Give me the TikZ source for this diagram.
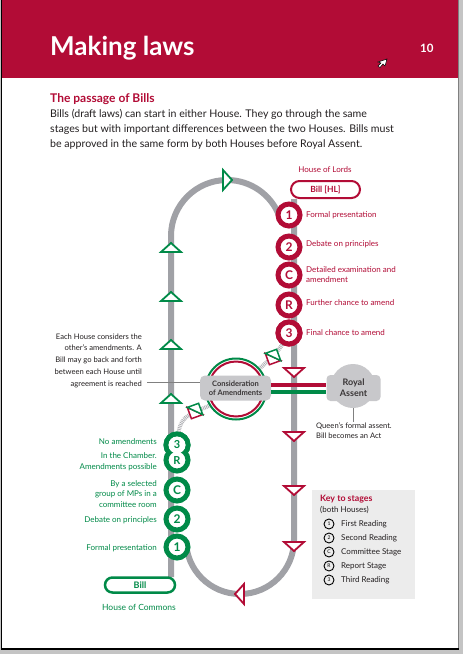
\documentclass[tikz,border=0pt]{standalone}
\usepackage{fontspec}
\setmainfont{Lato}
\definecolor{hred}{RGB}{178,12,54}
\definecolor{hgreen}{RGB}{0,138,72}
\definecolor{trk}{RGB}{160,161,166}
\definecolor{boxg}{RGB}{200,200,203}
\definecolor{keyg}{RGB}{236,236,236}
\definecolor{txt}{RGB}{35,31,32}
\definecolor{pageg}{RGB}{196,196,196}
\newcommand\fs[2]{\fontsize{#1}{#2}\selectfont}
\newcommand\mytri[4]{%
  \begin{scope}[shift={(#1,#2)},rotate=#3]
    \draw[#4,line width=1.8,fill=white,line join=miter] (-10,-4) -- (10,-4) -- (0,5) -- cycle;
  \end{scope}}
\newcommand\mypair[3]{%
  \begin{scope}[shift={(#1,#2)},rotate=#3]
    \draw[hred,line width=1.5,fill=white,line join=miter] (-6,-6) -- (-6,6) -- (6,6) -- cycle;
    \draw[hgreen,line width=1.5,fill=white,line join=miter] (-6,-6) -- (6,-6) -- (6,6) -- cycle;
  \end{scope}}
\begin{document}
\begin{tikzpicture}[x=1pt,y=-1pt,
  track/.style={draw=trk,line width=6},
  hatch/.style={draw=trk!85,line width=4,dash pattern=on 0.8pt off 0.9pt},
  lc/.style={circle,draw=hred,line width=5,fill=white,minimum size=22,inner sep=0,text=hred,font=\bfseries\fs{12}{12}},
  cc/.style={circle,draw=hgreen,line width=5,fill=white,minimum size=22,inner sep=0,text=hgreen,font=\bfseries\fs{12}{12}},
  ll/.style={anchor=west,text=hred,align=left,inner sep=0,font=\fs{8}{10.5}},
  cl/.style={anchor=east,text=hgreen,align=right,inner sep=0,font=\fs{8}{10.8}},
  kc/.style={circle,draw=black,line width=0.9,minimum size=10,inner sep=0,font=\fs{5}{5}},
  kt/.style={anchor=west,inner sep=0,text=txt,font=\fs{8}{9}},
  body/.style={anchor=base west,inner sep=0,text=txt,font=\fs{10.6}{12}},
  small/.style={inner sep=0,text=txt,font=\fs{7.6}{11.8}}
]
\useasboundingbox (0,0) rectangle (463,654);
% page
\fill[pageg] (0,0) rectangle (463,654);
\fill[white] (2,0) rectangle (458,648);
\fill[hred] (2,0) rectangle (458,78);
\draw[black,line width=1.5] (1.5,0) -- (1.5,648.8) -- (459,648.8);
\draw[gray,line width=1] (458.5,0) -- (458.5,648);
% header
\node[anchor=base west,inner sep=0,text=white,font=\bfseries\fs{26}{26}] (title) at (50,55) {Making laws};
\node[anchor=base west,inner sep=0,text=white,font=\bfseries\fs{11.5}{11.5}] (pnum) at (420,52) {10};
\draw[black,fill=white,line width=0.5] (387,59) -- (378,62) -- (381,63) -- (378,66) -- (380,67.5) -- (383,64) -- (385,66) -- cycle;
% intro
\node[anchor=base west,inner sep=0,text=hred,font=\bfseries\fs{12}{12}] (sub) at (50,102) {The passage of Bills};
\node[body] (b1) at (50,117) {Bills (draft laws) can start in either House. They go through the same};
\node[body] (b2) at (50,132) {stages but with important differences between the two Houses. Bills must};
\node[body] (b3) at (50,147) {be approved in the same form by both Houses before Royal Assent.};
% tracks
\draw[track] (171,577) -- (171,236) arc[start angle=180,end angle=340,radius=56];
\draw[track] (294,199) -- (294,540) arc[start angle=0,end angle=180,radius=54];
% triangles on tracks
\mytri{171}{248}{180}{hgreen}
\mytri{171}{297}{180}{hgreen}
\mytri{171}{345}{180}{hgreen}
\mytri{171}{399}{180}{hgreen}
\mytri{227}{180}{90}{hgreen}
\mytri{294}{372}{0}{hred}
\mytri{294}{436}{0}{hred}
\mytri{294}{490}{0}{hred}
\mytri{294}{546}{0}{hred}
\mytri{240}{594}{-90}{hred}
% Lords
\node[inner sep=0,text=hred,font=\fs{8}{8}] (hol) at (325,170) {House of Lords};
\node[draw=hred,line width=2,fill=white,rounded corners=8.5,minimum width=69,minimum height=17,inner sep=0,text=hred,font=\bfseries\fs{8.5}{8.5}] (bhl) at (325.5,189.5) {Bill [HL]};
% consideration ring and connectors
\coordinate (ringtr) at (259,369);
\coordinate (ringbl) at (211,405);
\node[lc] (l3) at (289,333) {3};
\node[cc] (c3) at (177,445) {};
\draw[hatch] (l3.center) .. controls (278,352) .. (ringtr);
\draw[hatch] (c3.center) .. controls (180,418) .. (ringbl);
\draw[hgreen,line width=2] (236,389) circle[radius=30.5];
\draw[hred,line width=2] (236,389) circle[radius=27.5];
\mypair{273}{357}{20}
\mypair{195}{411}{20}
% Lords stages
\node[lc] (l1) at (289,215) {1};
\node[lc] (l2) at (289,247) {2};
\node[lc] (lC) at (289,275) {C};
\node[lc] (lR) at (289,305) {R};
\node[lc] (l3b) at (289,333) {3};
\node[ll] (t1) at (306,215) {Formal presentation};
\node[ll] (t2) at (306,244) {Debate on principles};
\node[ll] (t3) at (306,274.5) {Detailed examination and\\amendment};
\node[ll] (t4) at (306,303) {Further chance to amend};
\node[ll] (t5) at (306,333) {Final chance to amend};
% Commons stages
\node[cc] (c3b) at (177,445) {};
\node[cc] (cR) at (177,460) {};
\fill[white] (177,445) circle[radius=8.5];
\node[inner sep=0,text=hgreen,font=\bfseries\fs{11}{11}] (c3t) at (177,445) {3};
\node[inner sep=0,text=hgreen,font=\bfseries\fs{11}{11}] (cRt) at (177,461) {R};
\node[cc] (cC) at (177,490) {C};
\node[cc] (c2) at (177,519) {2};
\node[cc] (c1) at (177,547) {1};
\node[cl] (s3) at (157,442) {No amendments};
\node[cl] (sR) at (157,462) {In the Chamber.\\Amendments possible};
\node[cl] (sC) at (157,494) {By a selected\\group of MPs in a\\committee room};
\node[cl] (s2) at (157,520) {Debate on principles};
\node[cl] (s1) at (157,548) {Formal presentation};
\node[draw=hgreen,line width=2.5,fill=white,rounded corners=7.5,minimum width=70,minimum height=15,inner sep=0,text=hgreen,font=\bfseries\fs{9}{9}] (bc) at (140,585) {Bill};
\node[inner sep=0,text=hgreen,font=\fs{8.5}{8.5}] (hoc) at (139,607) {House of Commons};
% consideration box
\node[rounded corners=5,fill=boxg,minimum width=71,minimum height=25,inner sep=0,align=center,text=txt!90,font=\bfseries\fs{7.5}{9.5}] (cons) at (235.5,388) {Consideration\\of Amendments};
% annotation
\node[small,anchor=east,align=right] (ann) at (142,360.5) {Each House considers the\\other's amendments. A\\Bill may go back and forth\\between each House until\\agreement is reached};
\coordinate (annpt) at (147,382);
\draw[gray,line width=0.8] (annpt) -- (cons.west |- annpt);
% royal assent
\node[circle,fill=boxg,minimum size=44,inner sep=0] (racirc) at (353,386) {};
\node[rounded corners=4,fill=boxg,minimum width=54,minimum height=26,inner sep=0,align=center,text=txt!90,font=\bfseries\fs{9}{11}] (ra) at (353.5,388) {Royal\\Assent};
\draw[hred,line width=4] ([yshift=3.5pt]cons.east) -- ([yshift=3.5pt]ra.west);
\draw[hgreen,line width=4] ([yshift=-3.5pt]cons.east) -- ([yshift=-3.5pt]ra.west);
\node[small,anchor=north west,align=left,font=\fs{7.6}{10.5}] (qt) at (316,422) {Queen's formal assent.\\Bill becomes an Act};
\draw[gray,line width=0.8] (racirc.south) -- (racirc.south |- qt.north);
% key
\node[fill=keyg,minimum width=103,minimum height=109,inner sep=0,anchor=north west] (key) at (312,490) {};
\node[anchor=base west,inner sep=0,text=hred,font=\bfseries\fs{8.8}{9}] (kh) at (320,501) {Key to stages};
\node[anchor=base west,inner sep=0,text=txt,font=\fs{8}{9}] (kh2) at (320,512) {(both Houses)};
\node[kc] (k1) at (329,524) {1};
\node[kc] (k2) at (329,538) {2};
\node[kc] (k3) at (329,552) {C};
\node[kc] (k4) at (329,566) {R};
\node[kc] (k5) at (329,580) {3};
\node[kt] (kt1) at (341,524) {First Reading};
\node[kt] (kt2) at (341,538) {Second Reading};
\node[kt] (kt3) at (341,552) {Committee Stage};
\node[kt] (kt4) at (341,566) {Report Stage};
\node[kt] (kt5) at (341,580) {Third Reading};
\end{tikzpicture}
\end{document}
